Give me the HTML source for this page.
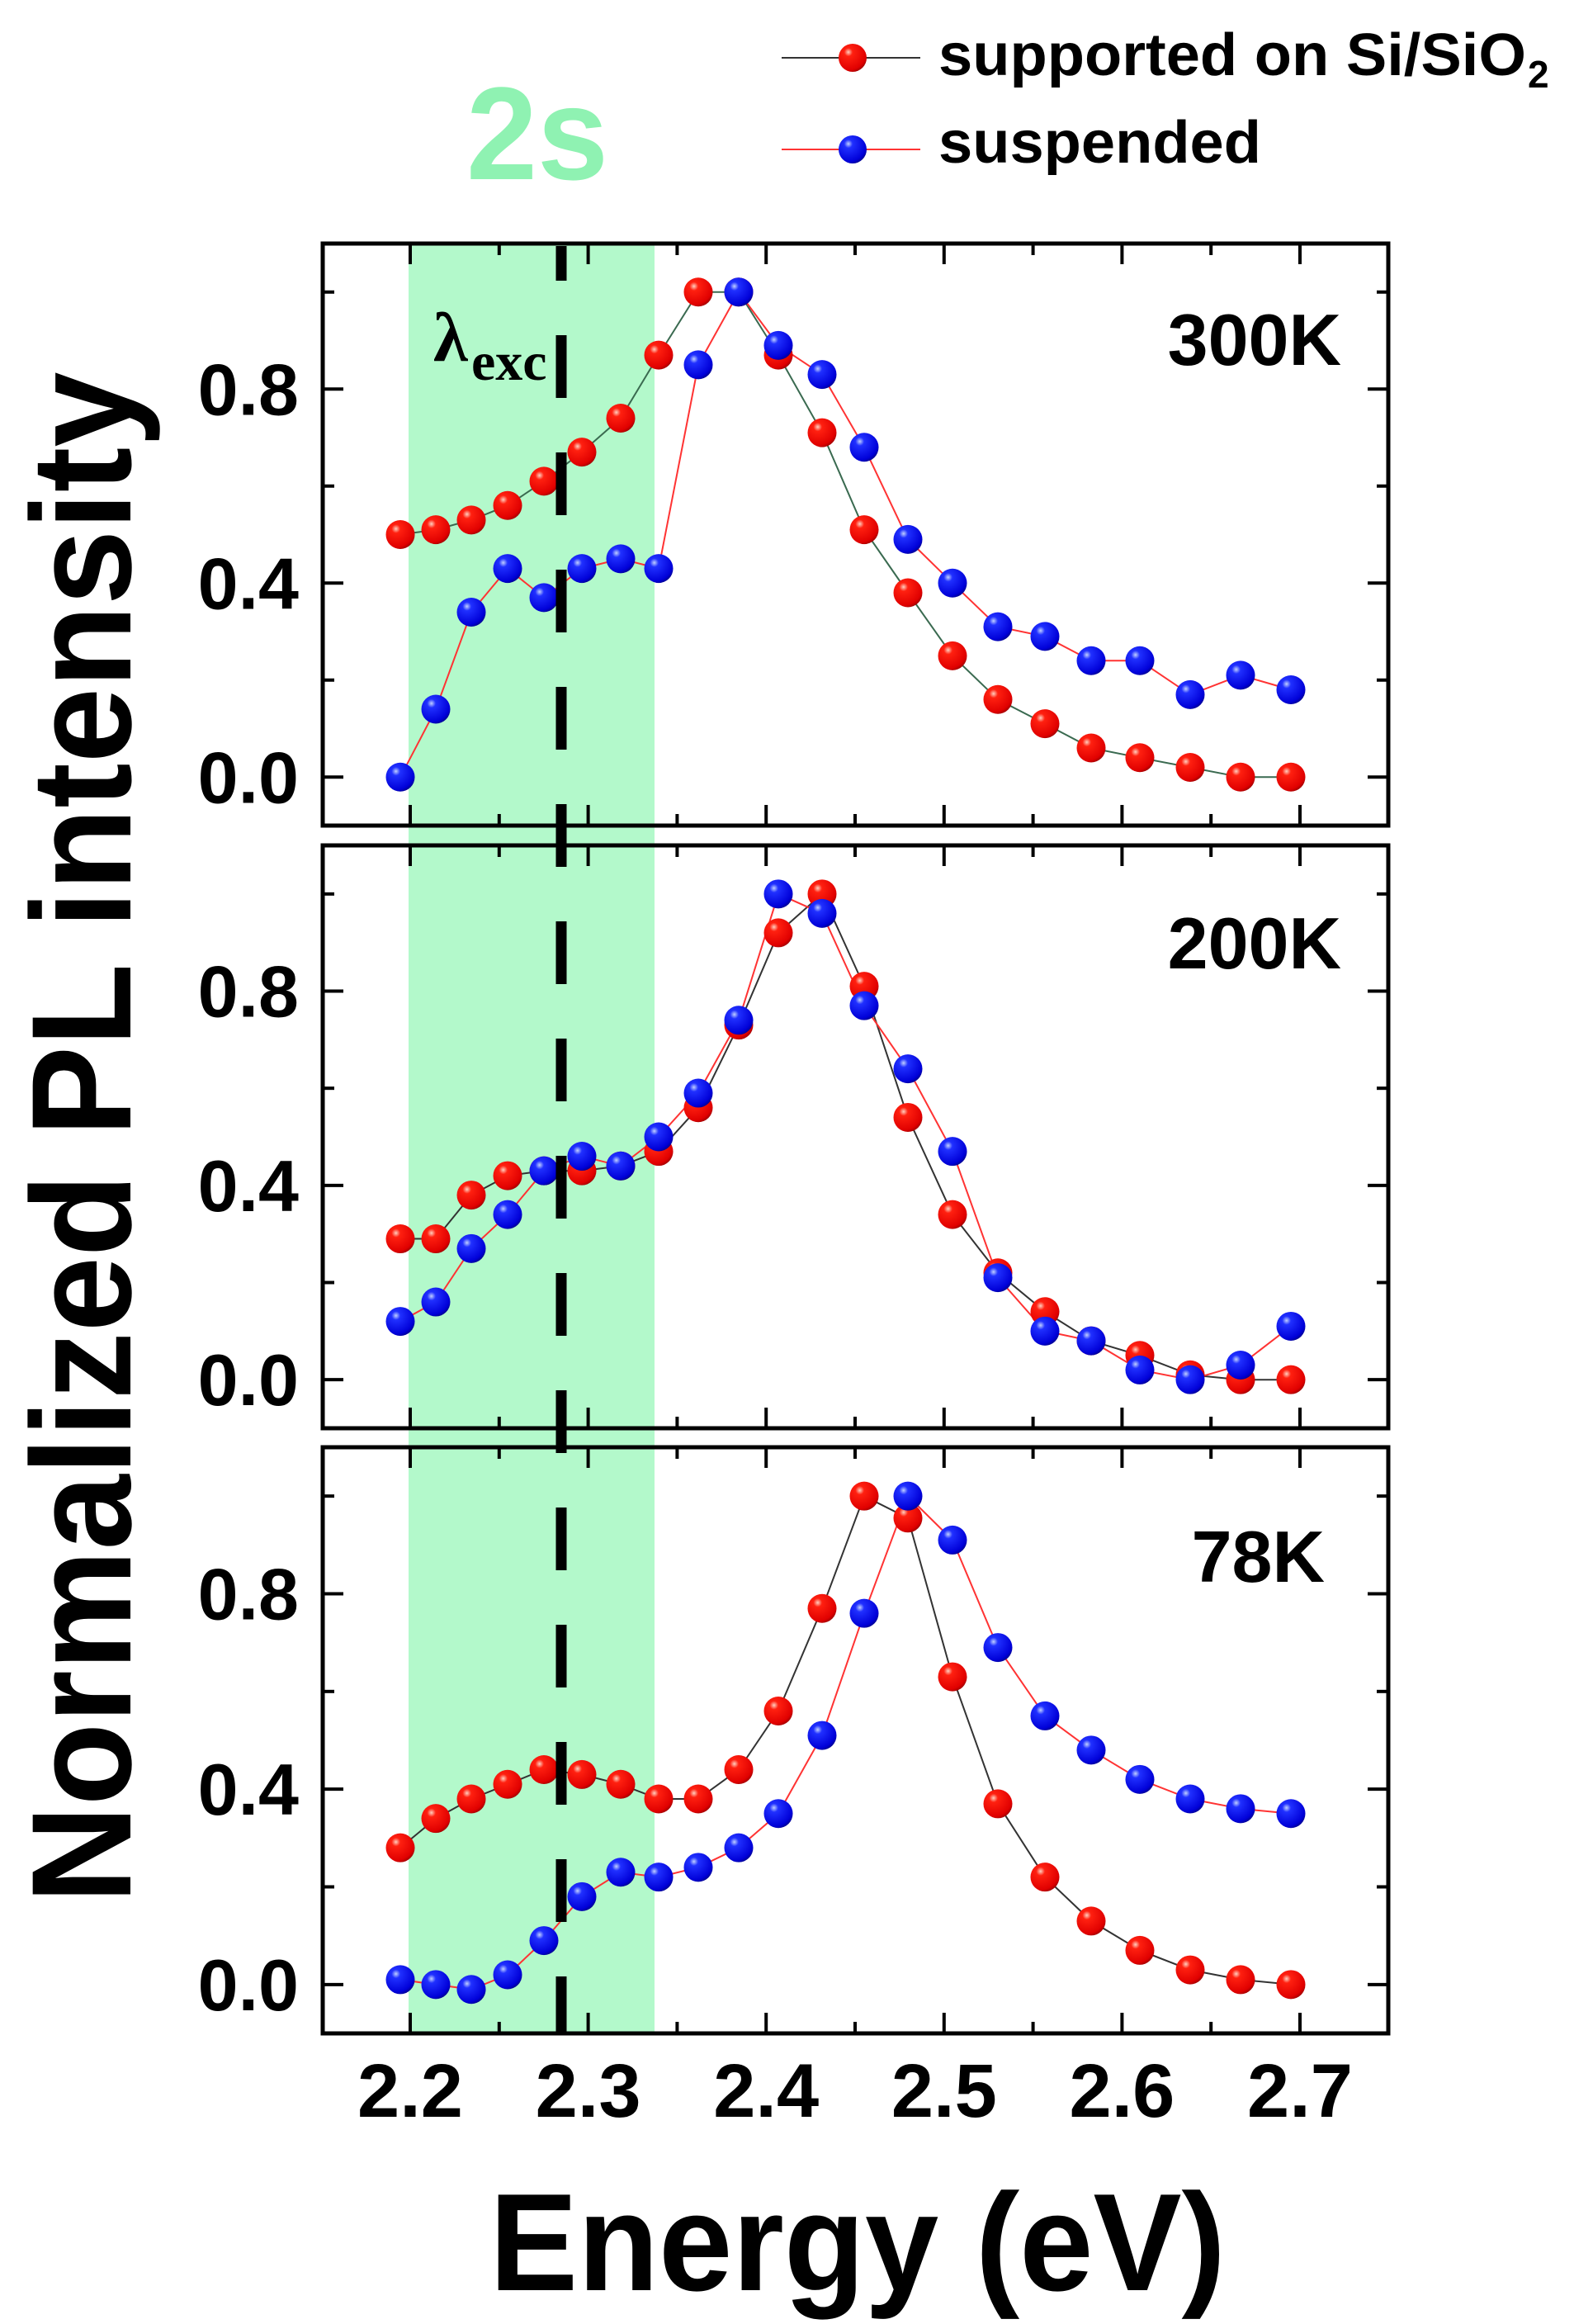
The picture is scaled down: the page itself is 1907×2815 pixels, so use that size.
<!DOCTYPE html>
<html><head><meta charset="utf-8">
<style>
html,body{margin:0;padding:0;background:#fff;}
svg{display:block;}
text{font-family:"Liberation Sans",Arial,sans-serif;font-weight:bold;}
</style></head>
<body>
<svg id="s" width="1907" height="2815" viewBox="0 0 1907 2815" xmlns="http://www.w3.org/2000/svg">
<defs>
<radialGradient id="gr" cx="0.35" cy="0.3" r="0.75">
<stop offset="0" stop-color="#ffd0c0"/><stop offset="0.2" stop-color="#ff2010"/><stop offset="0.85" stop-color="#e00000"/><stop offset="1" stop-color="#a00000"/>
</radialGradient>
<radialGradient id="gb" cx="0.35" cy="0.3" r="0.75">
<stop offset="0" stop-color="#c0d0ff"/><stop offset="0.2" stop-color="#2030ff"/><stop offset="0.85" stop-color="#0000d8"/><stop offset="1" stop-color="#000090"/>
</radialGradient>
</defs>
<g id="bg"></g>
<g id="g"></g>
<!-- legend -->
<line x1="947" y1="70" x2="1115" y2="70" stroke="#333" stroke-width="2"/>
<circle cx="1033" cy="70" r="17" fill="url(#gr)"/>
<text x="1137" y="91" font-size="72" textLength="712" lengthAdjust="spacingAndGlyphs">supported on Si/SiO</text>
<text x="1851" y="106" font-size="46">2</text>
<line x1="947" y1="181" x2="1115" y2="181" stroke="#f33" stroke-width="2"/>
<circle cx="1033" cy="181" r="17" fill="url(#gb)"/>
<text x="1137" y="197" font-size="72" textLength="391" lengthAdjust="spacingAndGlyphs">suspended</text>
<text x="565" y="217" font-size="160" fill="#8ff2b2" textLength="172" lengthAdjust="spacingAndGlyphs">2s</text>
<text x="0" y="0" font-size="172" transform="translate(158,1378) rotate(-90)" text-anchor="middle" textLength="1855" lengthAdjust="spacingAndGlyphs">Normalized PL intensity</text>
<text x="1039" y="2774" font-size="168" text-anchor="middle" textLength="892" lengthAdjust="spacingAndGlyphs">Energy (eV)</text>
</svg>
<script>
const NS="http://www.w3.org/2000/svg";
const g=document.getElementById('g'), bg=document.getElementById('bg');
function el(t,a,p){const e=document.createElementNS(NS,t);for(const k in a)e.setAttribute(k,a[k]);(p||g).appendChild(e);return e;}
const L=391,R=1682;
const X=E=>497+(E-2.2)*2156;
const px=[485,528,571,615,659,705,752,798,846,895,943,996,1047,1100,1154,1209,1266,1322,1381,1442,1503,1564];
const panels=[
{t:295,b:1000,lab:"300K",lx:1625,ly:442,
red:[0.50,0.51,0.53,0.56,0.61,0.67,0.74,0.87,1.0,1.0,0.87,0.71,0.51,0.38,0.25,0.16,0.11,0.06,0.04,0.02,0.0,0.0],
blue:[0,0.14,0.34,0.43,0.37,0.43,0.45,0.43,0.85,1.0,0.89,0.83,0.68,0.49,0.40,0.31,0.29,0.24,0.24,0.17,0.21,0.18]},
{t:1024,b:1730,lab:"200K",lx:1625,ly:1173,
red:[0.29,0.29,0.38,0.42,0.43,0.43,0.44,0.47,0.56,0.73,0.92,1.0,0.81,0.54,0.34,0.22,0.14,0.08,0.05,0.01,0.0,0.0],
blue:[0.12,0.16,0.27,0.34,0.43,0.46,0.44,0.50,0.59,0.74,1.0,0.96,0.77,0.64,0.47,0.21,0.10,0.08,0.02,0.0,0.03,0.11]},
{t:1753,b:2463,lab:"78K",lx:1605,ly:1916,
red:[0.28,0.34,0.38,0.41,0.44,0.43,0.41,0.38,0.38,0.44,0.56,0.77,1.0,0.955,0.63,0.37,0.22,0.13,0.07,0.03,0.01,0.0],
blue:[0.01,0.0,-0.01,0.02,0.09,0.18,0.23,0.22,0.24,0.28,0.35,0.51,0.76,1.0,0.91,0.69,0.55,0.48,0.42,0.38,0.36,0.35]}
];
el('rect',{x:495,y:295,width:298,height:2168,fill:'#b3f9cb'},bg);
panels.forEach((p,i)=>{
 const h=p.b-p.t, Y=v=>p.b-(v+0.1)*h/1.2;
 for(let k=0;k<=12;k++){const E=2.2+k*0.05;const x=X(E);const len=k%2?14:25;
  if(E>2.71)break;
  el('line',{x1:x,y1:p.b,x2:x,y2:p.b-len,stroke:'#000','stroke-width':4});
  el('line',{x1:x,y1:p.t,x2:x,y2:p.t+len,stroke:'#000','stroke-width':4});}
 for(let k=0;k<=5;k++){const v=k*0.2,y=Y(v),len=k%2?14:25;
  el('line',{x1:L,y1:y,x2:L+len,y2:y,stroke:'#000','stroke-width':4});
  el('line',{x1:R,y1:y,x2:R-len,y2:y,stroke:'#000','stroke-width':4});
  if(k%2==0){const t=el('text',{x:362,y:y+31,'font-size':88,'text-anchor':'end'});t.textContent=v.toFixed(1);}}
 el('rect',{x:L,y:p.t,width:R-L,height:h,fill:'none',stroke:'#000','stroke-width':5});
 const lt=el('text',{x:p.lx,y:p.ly,'font-size':88,'text-anchor':'end'});lt.textContent=p.lab;
 const pr=p.red.map((v,j)=>px[j]+','+Y(v).toFixed(1)).join(' ');
 const pb=p.blue.map((v,j)=>px[j]+','+Y(v).toFixed(1)).join(' ');
 el('polyline',{points:pr,fill:'none',stroke:i==0?'#3a6a50':'#333','stroke-width':2});
 el('polyline',{points:pb,fill:'none',stroke:'#f33','stroke-width':2});
 p.red.forEach((v,j)=>el('circle',{cx:px[j],cy:Y(v),r:17.5,fill:'url(#gr)'}));
 p.blue.forEach((v,j)=>el('circle',{cx:px[j],cy:Y(v),r:17.5,fill:'url(#gb)'}));
});
["2.2","2.3","2.4","2.5","2.6","2.7"].forEach((s,k)=>{const t=el('text',{x:X(2.2+k*0.1),y:2564,'font-size':92,'text-anchor':'middle'});t.textContent=s;});
el('line',{x1:680,y1:298,x2:680,y2:2463,stroke:'#000','stroke-width':13,'stroke-dasharray':'76 66','stroke-dashoffset':34});
const lt=el('text',{x:525,y:437,'font-size':85,style:'font-family:"Liberation Serif",serif;font-weight:bold'});lt.textContent='λ';
const le=el('text',{x:571,y:460,'font-size':66,style:'font-family:"Liberation Serif",serif;font-weight:bold'});le.textContent='exc';
</script>
</body></html>
